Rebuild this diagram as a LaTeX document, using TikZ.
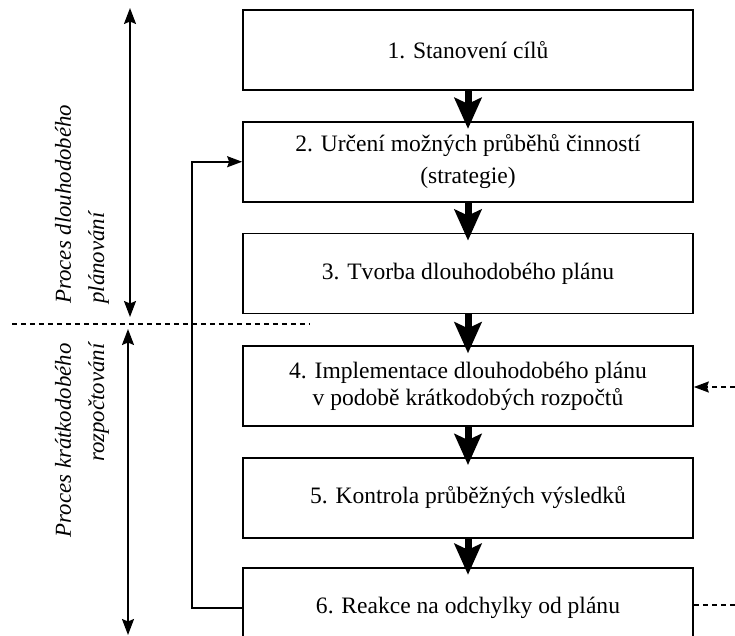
\documentclass[tikz,border=0pt]{standalone}
\usepackage{fontspec}
\setmainfont{Liberation Serif}
\usepackage{tikz}
\usetikzlibrary{positioning, arrows.meta}

\begin{document}
\begin{tikzpicture}[
    x=0.02cm, y=-0.02cm,
    node distance=0.6cm,
    box/.style={rectangle, draw, line width=1pt, minimum width=9cm, minimum height=1.6cm, align=center, font=\fontsize{13.4}{15.5}\selectfont},
    flow/.style={-{Stealth[width=0.54cm, length=0.62cm, inset=0.12cm]}, line width=0.14cm, shorten >=-0.16cm},
    span/.style={{Stealth[width=0.24cm, length=0.32cm, inset=0.05cm]}-{Stealth[width=0.24cm, length=0.32cm, inset=0.05cm]}, line width=1pt},
    back/.style={-{Stealth[width=0.22cm, length=0.3cm, inset=0.04cm]}, line width=1pt},
    dotline/.style={line width=1pt, dash pattern=on 0.1cm off 0.08cm},
    side/.style={rotate=90, inner sep=0pt, font=\fontsize{13}{19}\selectfont\itshape}
]
    \useasboundingbox (0,0) rectangle (735,636);

    % process steps
    \node[box] (s1) at (468,50) {1. Stanovení cílů};
    \node[box, below=of s1] (s2) {2. Určení možných průběhů činností\\[3pt](strategie)};
    \node[box, below=of s2] (s3) {3. Tvorba dlouhodobého plánu};
    \node[box, below=0.62cm of s3] (s4) {4. Implementace dlouhodobého plánu\\v podobě krátkodobých rozpočtů};
    \node[box, below=of s4] (s5) {5. Kontrola průběžných výsledků};
    \node[box, below=0.56cm of s5] (s6) {6. Reakce na odchylky od plánu};

    \draw[flow] (s1) -- (s2);
    \draw[flow] (s2) -- (s3);
    \draw[flow] (s3) -- (s4);
    \draw[flow] (s4) -- (s5);
    \draw[flow] (s5) -- (s6);

    % feedback
    \draw[back] (s6.west) -- ++(-1cm,0) |- (s2.west);

    % outside links
    \coordinate (in4) at (735,387);
    \coordinate (out6) at (735,605);
    \draw[dotline, -{Stealth[width=0.22cm, length=0.3cm, inset=0.04cm]}] (in4) -- (in4 -| s4.east);
    \draw[dotline] (out6 -| s6.east) -- (out6);

    % phases
    \coordinate (top1) at (130,8);
    \coordinate (bot1) at (130,317);
    \coordinate (top2) at (128,329);
    \coordinate (bot2) at (128,635);
    \coordinate (cutL) at (12,324);
    \coordinate (cutR) at (310,324);
    \draw[span] (top1) -- (bot1);
    \draw[span] (top2) -- (bot2);
    \draw[dotline] (cutL) -- (cutR);

    \node[side, anchor=west, align=left] (longlbl) at (82,304) {Proces dlouhodobého\\plánování};
    \node[side, anchor=east, align=right] (shortlbl) at (82,343) {Proces krátkodobého\\rozpočtování};
\end{tikzpicture}
\end{document}
